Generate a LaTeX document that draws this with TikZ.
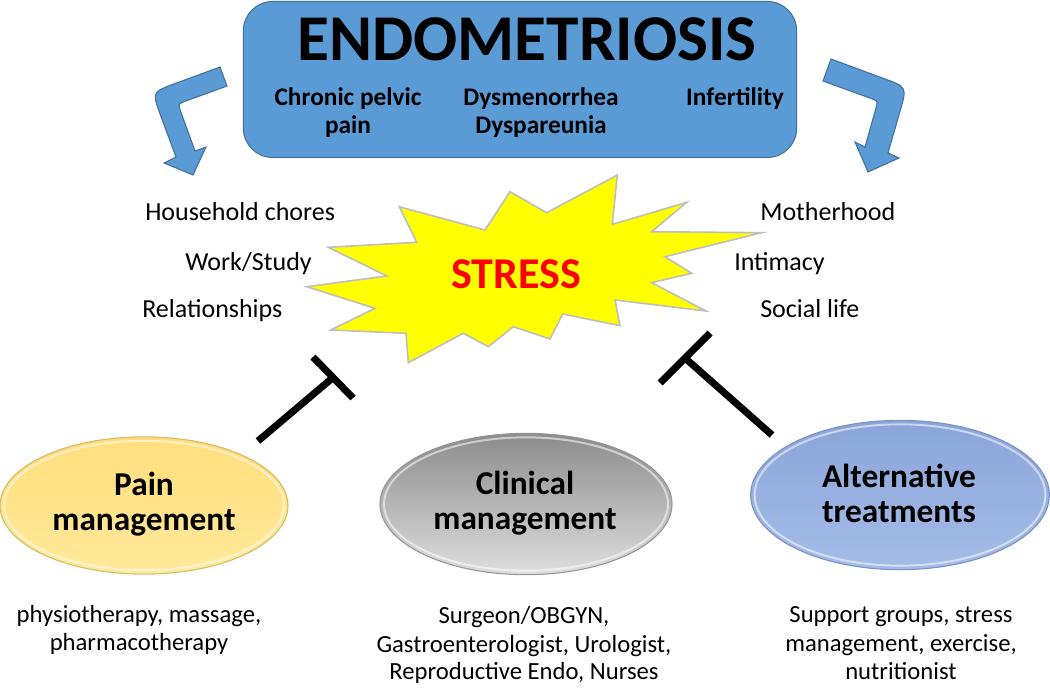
\documentclass[tikz,border=0pt]{standalone}
\usepackage{fontspec}
\setmainfont{Carlito}
\usetikzlibrary{shapes.geometric}
\definecolor{boxblue}{RGB}{91,155,213}
\definecolor{boxedge}{RGB}{65,113,156}
\definecolor{stargray}{RGB}{190,190,190}
\definecolor{starfill}{RGB}{255,255,0}
\definecolor{stressred}{RGB}{255,0,0}
\definecolor{painTop}{RGB}{255,222,125}
\definecolor{painBot}{RGB}{255,233,155}
\definecolor{painEdge}{RGB}{215,185,100}
\definecolor{clinTop}{RGB}{140,140,140}
\definecolor{clinBot}{RGB}{222,222,222}
\definecolor{clinEdge}{RGB}{150,150,150}
\definecolor{altTop}{RGB}{138,165,218}
\definecolor{altBot}{RGB}{165,188,232}
\definecolor{altEdge}{RGB}{120,145,195}
\tikzset{
  bluearrow/.style={fill=boxblue, draw=boxedge, line width=0.8pt, line join=miter},
  blocker/.style={line width=5.3pt, black},
  sidetext/.style={font=\fontsize{19.5}{23}\selectfont, inner sep=0pt, anchor=base west},
  subtext/.style={font=\fontsize{19}{22}\selectfont\bfseries, inner sep=0pt, anchor=base},
  bottomtext/.style={font=\fontsize{18.5}{21.5}\selectfont, inner sep=0pt, anchor=base},
  elltext/.style={font=\fontsize{25}{26}\selectfont\bfseries, inner sep=0pt, anchor=base},
  bubble/.style={shape=ellipse, inner sep=0pt, line width=0.8pt},
  rim/.style={shape=ellipse, inner sep=0pt, draw=white, draw opacity=0.55, line width=1.5pt},
}
\begin{document}
\begin{tikzpicture}[x=0.75pt,y=-0.75pt]
\useasboundingbox (0,0) rectangle (1050,688);

% top box
\node[draw=boxedge, fill=boxblue, line width=0.8pt, rounded corners=22pt,
      minimum width=415pt, minimum height=117pt, inner sep=0pt] (endo) at (520,79.5) {};
\node[font=\fontsize{49}{50}\selectfont\bfseries, inner sep=0pt, anchor=base] (title) at (527,61) {ENDOMETRIOSIS};
\node[subtext] (cpp1) at (348,106) {Chronic pelvic};
\node[subtext] (cpp2) at (348,134) {pain};
\node[subtext] (dys1) at (541,106) {Dysmenorrhea};
\node[subtext] (dys2) at (541,134) {Dyspareunia};
\node[subtext] (inf) at (735,106) {Infertility};

% curved arrows
\draw[bluearrow] (220,67) -- (175.5,83.4) .. controls (152,92) .. (160.6,115.5) -- (176,157) -- (164,163) -- (193,175) -- (206,147) -- (195,151) -- (180.7,111.5) .. controls (178,104) .. (185.5,101.2) -- (227,86) -- cycle;
\draw[bluearrow] (831,59) -- (883.5,78.4) .. controls (907,87) .. (900.1,111) -- (888,153) -- (899,158) -- (868,172) -- (855,142) -- (865,147) -- (875.8,108.7) .. controls (878,101) .. (870.5,98.3) -- (823,81) -- cycle;

% stress star
\draw[fill=starfill, draw=stargray, line width=1.2pt, line join=miter]
 (306.7,286.7) -- (386.7,276) -- (328.3,247.3) -- (416.7,242.3) -- (399.3,206.7) -- (485,230) -- (510,191.7) -- (546.7,212.7) -- (617.3,175) -- (612.3,224.3) -- (686.7,202.3) -- (651.7,231.7) -- (761.7,232.7) -- (665,256.7) -- (691.7,273.3) -- (651.7,282.7) -- (706,311) -- (615,300) -- (620,325.7) -- (562.7,314) -- (550,339) -- (513.3,326.7) -- (488.3,346.7) -- (463.3,333.3) -- (408.3,362.7) -- (406,333.3) -- (330.7,330) -- (375,308.3) -- cycle;
\node[font=\fontsize{33}{34}\selectfont\bfseries, text=stressred, inner sep=0pt, anchor=base] (stress) at (516,288) {STRESS};

% side texts
\node[sidetext] (house) at (145,221) {Household chores};
\node[sidetext] (work) at (185,270) {Work/Study};
\node[sidetext] (rel) at (142,317) {Relationships};
\node[sidetext] (mother) at (760,221) {Motherhood};
\node[sidetext] (intim) at (734,270) {Intimacy};
\node[sidetext] (social) at (760,317) {Social life};

% ellipses
\node[bubble, draw=painEdge, top color=painTop, bottom color=painBot, minimum width=216pt, minimum height=103pt] (pain) at (144,505.5) {};
\node[rim, minimum width=210pt, minimum height=97pt] (painrim) at (144,505.5) {};
\node[bubble, draw=clinEdge, top color=clinTop, bottom color=clinBot, minimum width=219pt, minimum height=106pt] (clin) at (526,504) {};
\node[rim, minimum width=213pt, minimum height=100pt] (clinrim) at (526,504) {};
\node[bubble, draw=altEdge, top color=altTop, bottom color=altBot, minimum width=224pt, minimum height=112pt] (alt) at (900,495) {};
\node[rim, minimum width=218pt, minimum height=106pt] (altrim) at (900,495) {};

\node[elltext] (p1) at (144,495) {Pain};
\node[elltext] (p2) at (144,530) {management};
\node[elltext] (c1) at (525,494) {Clinical};
\node[elltext] (c2) at (525,529) {management};
\node[elltext] (a1) at (899,487) {Alternative};
\node[elltext] (a2) at (899,522) {treatments};

% blockers
\coordinate (lb1) at (313,357);
\coordinate (lb2) at (353,398);
\coordinate (lbm) at (333,377.5);
\coordinate (lstem) at (258,441);
\draw[blocker] (lb1) -- (lb2);
\draw[blocker] (lstem) -- (lbm);
\coordinate (rb1) at (660,383);
\coordinate (rb2) at (710,333);
\coordinate (rbm) at (685,358);
\coordinate (rstem) at (772,435);
\draw[blocker] (rb1) -- (rb2);
\draw[blocker] (rstem) -- (rbm);

% bottom texts
\node[bottomtext] (pb1) at (139,622) {physiotherapy, massage,};
\node[bottomtext] (pb2) at (139,650) {pharmacotherapy};
\node[bottomtext] (cb1) at (524,623) {Surgeon/OBGYN,};
\node[bottomtext] (cb2) at (524,652) {Gastroenterologist, Urologist,};
\node[bottomtext] (cb3) at (524,679) {Reproductive Endo, Nurses};
\node[bottomtext] (ab1) at (901,622) {Support groups, stress};
\node[bottomtext] (ab2) at (901,651) {management, exercise,};
\node[bottomtext] (ab3) at (901,679) {nutritionist};
\end{tikzpicture}
\end{document}
